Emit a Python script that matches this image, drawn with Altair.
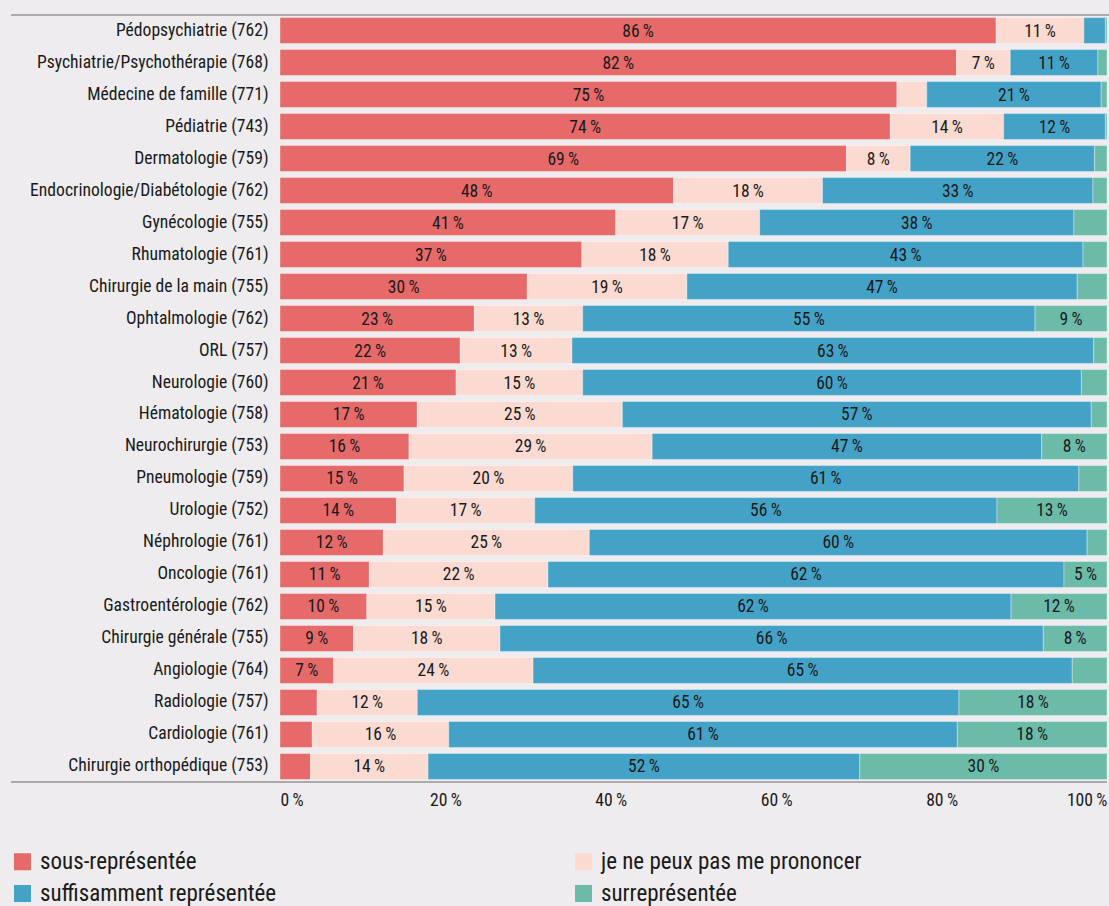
import altair as alt
import pandas as pd

categories = [
    "Pédopsychiatrie (762)", "Psychiatrie/Psychothérapie (768)", "Médecine de famille (771)",
    "Pédiatrie (743)", "Dermatologie (759)", "Endocrinologie/Diabétologie (762)",
    "Gynécologie (755)", "Rhumatologie (761)", "Chirurgie de la main (755)",
    "Ophtalmologie (762)", "ORL (757)", "Neurologie (760)", "Hématologie (758)",
    "Neurochirurgie (753)", "Pneumologie (759)", "Urologie (752)", "Néphrologie (761)",
    "Oncologie (761)", "Gastroentérologie (762)", "Chirurgie générale (755)",
    "Angiologie (764)", "Radiologie (757)", "Cardiologie (761)", "Chirurgie orthopédique (753)",
]

series = ["sous-représentée", "je ne peux pas me prononcer",
          "suffisamment représentée", "surreprésentée"]
colors = ["#E66A6A", "#FBDBD1", "#45A2C7", "#6CBBA8"]
# legend entries fill column by column: (sous, suffisamment) then (je ne peux, sur)
legend_order = [0, 2, 1, 3]

sous = [86.6, 81.8, 74.6, 73.8, 68.5, 47.6, 40.6, 36.5, 29.9, 23.5, 21.8, 21.3,
        16.6, 15.6, 15.0, 14.1, 12.5, 10.8, 10.5, 8.9, 6.5, 4.5, 3.9, 3.7]
neutre = [10.6, 6.5, 3.6, 13.7, 7.7, 18.0, 17.4, 17.7, 19.3, 13.1, 13.5, 15.3,
          24.8, 29.4, 20.4, 16.7, 24.9, 21.6, 15.5, 17.7, 24.1, 12.1, 16.5, 14.2]
suff = [2.6, 10.6, 21.1, 12.3, 22.3, 32.7, 38.0, 42.9, 47.2, 54.7, 63.1, 60.3,
        56.7, 47.1, 61.2, 55.9, 60.2, 62.4, 62.4, 65.7, 65.2, 65.5, 61.5, 52.2]
surr = [0.2, 1.1, 0.7, 0.2, 1.5, 1.7, 4.0, 2.9, 3.6, 8.7, 1.6, 3.1,
        1.9, 7.9, 3.4, 13.3, 2.4, 5.2, 11.6, 7.7, 4.2, 17.9, 18.1, 29.9]

lab_sous = [86, 82, 75, 74, 69, 48, 41, 37, 30, 23, 22, 21, 17, 16, 15, 14, 12, 11, 10, 9, 7,
            None, None, None]
lab_neutre = [11, 7, None, 14, 8, 18, 17, 18, 19, 13, 13, 15, 25, 29, 20, 17, 25, 22, 15, 18,
              24, 12, 16, 14]
lab_suff = [None, 11, 21, 12, 22, 33, 38, 43, 47, 55, 63, 60, 57, 47, 61, 56, 60, 62, 62, 66,
            65, 65, 61, 52]
lab_surr = [None, None, None, None, None, None, None, None, None, 9, None, None, None, 8,
            None, 13, None, 5, 12, 8, None, 18, 18, 30]

x_ticks = [0, 20, 40, 60, 80, 100]

rows = []
for vals, labs, s_idx in [(sous, lab_sous, 0), (neutre, lab_neutre, 1),
                          (suff, lab_suff, 2), (surr, lab_surr, 3)]:
    for cat, v, l in zip(categories, vals, labs):
        rows.append({
            "cat": cat, "serie": series[s_idx], "ord": s_idx, "val": v,
            "lab": "" if l is None else f"{l}\u2009%",
        })
df = pd.DataFrame(rows)

FONT = "Liberation Sans Narrow, Roboto Condensed, DejaVu Sans Condensed, Roboto, sans-serif"
W, H = 827, 767

base = alt.Chart(df).transform_stack(
    stack="val", as_=["x0", "x1"], groupby=["cat"], sort=[alt.SortField("ord")]
).transform_calculate(mid="(datum.x0 + datum.x1) / 2")

yenc = alt.Y("cat:N", sort=categories, title=None,
             scale=alt.Scale(paddingInner=0.19, paddingOuter=0.08),
             axis=alt.Axis(labelFont=FONT, labelFontSize=17.6, labelColor="#1a1a1a",
                           labelPadding=12, ticks=False, domain=False, labelLimit=300))

leg_domain = [series[i] for i in legend_order]
leg_range = [colors[i] for i in legend_order]

bars = base.mark_bar(stroke="#ffffff", strokeOpacity=0.35, strokeWidth=1).encode(
    x=alt.X("x0:Q", title=None, scale=alt.Scale(domain=[0, 100], nice=False),
            axis=alt.Axis(values=x_ticks, labelExpr="datum.value + '\u2009%'",
                          labelFont=FONT, labelFontSize=17.6, labelColor="#1a1a1a",
                          labelFlush=True, ticks=False, domain=False, grid=False,
                          labelPadding=9)),
    x2="x1:Q",
    y=yenc,
    color=alt.Color("serie:N",
                    scale=alt.Scale(domain=leg_domain, range=leg_range),
                    legend=alt.Legend(title=None, orient="none", legendX=-269, legendY=835,
                                      columns=2, columnPadding=295, rowPadding=8,
                                      symbolType="square", symbolSize=290,
                                      symbolStrokeWidth=0, labelFont=FONT,
                                      labelFontSize=23, labelColor="#1a1a1a",
                                      labelOffset=6, labelLimit=400)),
)

texts = base.mark_text(font=FONT, fontSize=17.5, color="#1a1a1a", baseline="middle", dy=1).encode(
    x="mid:Q",
    y=alt.Y("cat:N", sort=categories),
    text="lab:N",
)

top_rule = alt.Chart(df).mark_rule(color="#ababab", strokeWidth=1.5).encode(
    x=alt.value(-269), x2=alt.value(W + 2), y=alt.value(0)
)
bot_rule = alt.Chart(df).mark_rule(color="#ababab", strokeWidth=1.5).encode(
    x=alt.value(-269), x2=alt.value(W), y=alt.value(H)
)

chart = alt.layer(bars, texts, top_rule, bot_rule).properties(
    width=W, height=H,
    autosize=alt.AutoSizeParams(type="none"),
    padding={"left": 280, "top": 15, "right": 2, "bottom": 124},
    background="#EEECEF",
).configure_view(stroke=None)

chart.save("out.html", embed_options={"renderer": "svg", "actions": False})
